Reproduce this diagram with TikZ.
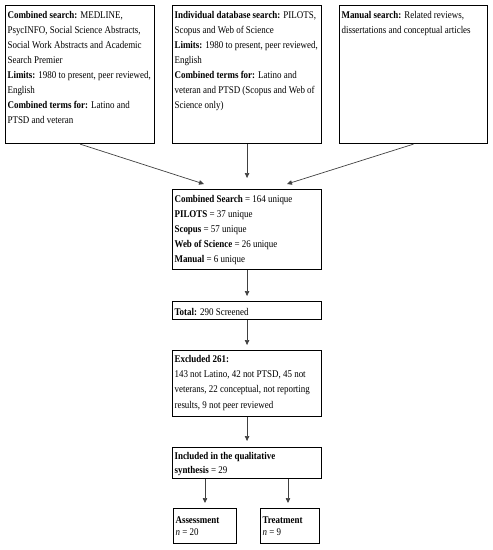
\documentclass[tikz,border=0pt]{standalone}
\usepackage{fontspec}
\setmainfont[FakeStretch=0.87]{Liberation Serif}
\usetikzlibrary{arrows.meta,calc}
\newcommand{\bxt}[4]{\parbox[t][#1][t]{#2}{\vspace*{#3}#4}}
\begin{document}
\begin{tikzpicture}[x=1pt,y=-1pt,
  box/.style={draw=black,line width=1.1pt,inner xsep=2pt,inner ysep=3pt,anchor=north west,font=\fontsize{10.3}{15.1}\selectfont},
  arr/.style={draw=black!75,line width=0.7pt,-{Triangle[length=5pt,width=4.5pt]}}]
\useasboundingbox (0,0) rectangle (493,550);
\node[box] (b1) at (5,5) {\bxt{132pt}{145pt}{2.5pt}{\textbf{Combined search:} MEDLINE,\\PsycINFO, Social Science Abstracts,\\Social Work Abstracts and Academic\\Search Premier\\\textbf{Limits:} 1980 to present, peer reviewed,\\English\\\textbf{Combined terms for:} Latino and\\PTSD and veteran}};
\node[box] (b2) at (172,5) {\bxt{132pt}{145pt}{2.5pt}{\textbf{Individual database search:} PILOTS,\\Scopus and Web of Science\\\textbf{Limits:} 1980 to present, peer reviewed,\\English\\\textbf{Combined terms for:} Latino and\\veteran and PTSD (Scopus and Web of\\Science only)}};
\node[box] (b3) at (339,5) {\bxt{132pt}{144pt}{2.5pt}{\textbf{Manual search:} Related reviews,\\dissertations and conceptual articles}};
\node[box] (cs) at (172,189) {\bxt{74pt}{145pt}{2.3pt}{\textbf{Combined Search} = 164 unique\\\textbf{PILOTS} = 37 unique\\\textbf{Scopus} = 57 unique\\\textbf{Web of Science} = 26 unique\\\textbf{Manual} = 6 unique}};
\node[box,inner ysep=1pt] (tot) at (172,301) {\bxt{16pt}{145pt}{6pt}{\textbf{Total:} 290 Screened}};
\node[box] (ex) at (172,350) {\bxt{60pt}{145pt}{2pt}{\textbf{Excluded 261:}\\143 not Latino, 42 not PTSD, 45 not\\veterans, 22 conceptual, not reporting\\results, 9 not peer reviewed}};
\node[box,inner ysep=2pt,font=\fontsize{10.3}{14}\selectfont] (inc) at (172,447) {\bxt{27pt}{145pt}{3.2pt}{\textbf{Included in the qualitative}\\\textbf{synthesis} = 29}};
\node[box,inner ysep=3pt,font=\fontsize{10.3}{12.5}\selectfont] (as) at (173,508) {\bxt{29pt}{59pt}{5pt}{\textbf{Assessment}\\\textit{n} = 20}};
\node[box,inner ysep=3pt,font=\fontsize{10.3}{12.5}\selectfont] (tr) at (260,508) {\bxt{29pt}{55pt}{5pt}{\textbf{Treatment}\\\textit{n} = 9}};
\coordinate (t1) at ($(cs.north west)+(32,-5)$);
\coordinate (t3) at ($(cs.north west)+(115,-5)$);
\draw[arr] (b1.south) -- (t1);
\draw[arr] (b2.south) -- ($(cs.north)+(0,-11)$);
\draw[arr] (b3.south) -- (t3);
\draw[arr] (cs.south) -- ($(tot.north)+(0,-5)$);
\draw[arr] (tot.south) -- ($(ex.north)+(0,-5)$);
\draw[arr] (ex.south) -- ($(inc.north)+(0,-6)$);
\draw[arr] ($(inc.south west)+(33,0)$) -- ($(as.north west)+(32,-5)$);
\draw[arr] ($(inc.south west)+(116,0)$) -- ($(tr.north west)+(28,-5)$);
\end{tikzpicture}
\end{document}
